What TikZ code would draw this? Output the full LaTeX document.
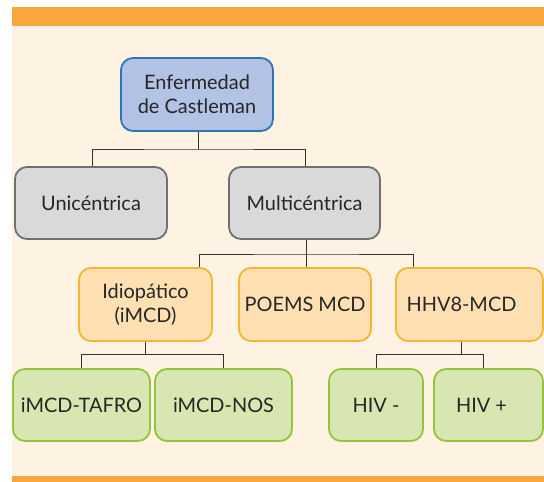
\documentclass[tikz,border=0pt]{standalone}
\usepackage{fontspec}
\setmainfont{Lato}
\definecolor{cream}{HTML}{FEF2E2}
\definecolor{barorange}{HTML}{F8A73E}
\definecolor{bluefill}{HTML}{B3C3E6}
\definecolor{blueline}{HTML}{2E75B6}
\definecolor{grayfill}{HTML}{D9D9D9}
\definecolor{grayline}{HTML}{707070}
\definecolor{orfill}{HTML}{FFE0B3}
\definecolor{orline}{HTML}{F9B234}
\definecolor{grfill}{HTML}{D8E6B1}
\definecolor{grline}{HTML}{97C23C}
\definecolor{conn}{HTML}{333333}
\tikzset{
  box/.style={rectangle, rounded corners=12bp, line width=1.8bp, align=center,
    font=\fontsize{20}{24}\selectfont, text=black!85, inner sep=0pt},
  bluebox/.style={box, fill=bluefill, draw=blueline},
  graybox/.style={box, fill=grayfill, draw=grayline},
  orbox/.style={box, fill=orfill, draw=orline},
  grbox/.style={box, fill=grfill, draw=grline},
  link/.style={draw=conn, line width=1bp},
}
\begin{document}
\begin{tikzpicture}[x=1bp,y=-1bp]
\useasboundingbox (0,0) rectangle (544,482);
\fill[white] (0,0) rectangle (544,482);
\fill[cream] (12,26) rectangle (544,476);
\fill[barorange] (12,7.5) rectangle (544,26);
\fill[barorange] (12,476) rectangle (544,482);

\node[bluebox, minimum width=152bp, minimum height=73bp] (ec) at (197,94.5) {Enfermedad\\de Castleman};
\node[graybox, minimum width=152bp, minimum height=72bp] (uni) at (91,203) {Unicéntrica};
\node[graybox, minimum width=151bp, minimum height=72bp] (multi) at (304.5,203) {Multicéntrica};
\node[orbox, minimum width=133bp, minimum height=73bp] (idio) at (145.5,304.5) {Idiopático\\(iMCD)};
\node[orbox, minimum width=132bp, minimum height=73bp] (poems) at (305,304.5) {POEMS MCD};
\node[orbox, minimum width=147bp, minimum height=73bp] (hhv) at (469.5,304.5) {\hspace*{-16bp}HHV8-MCD};
\node[grbox, minimum width=137bp, minimum height=72bp] (tafro) at (81.5,405) {iMCD-TAFRO};
\node[grbox, minimum width=137bp, minimum height=72bp] (nos) at (223.5,405) {iMCD-NOS};
\node[grbox, minimum width=94bp, minimum height=72bp] (hivn) at (376,405) {HIV -};
\node[grbox, minimum width=109bp, minimum height=72bp] (hivp) at (488.5,405) {\hspace*{-14bp}HIV +};

\coordinate (j1) at (198.5,150);
\draw[link] (ec.south -| j1) -- (j1);
\draw[link] (uni.north -| 92,0) |- (j1) -| (multi.north -| 305,0);

\coordinate (j2) at (306,254);
\draw[link] (multi.south -| j2) -- (j2);
\draw[link] (idio.north -| 199,0) |- (j2) -| (hhv.north -| 413,0);
\draw[link] (j2) -- (poems.north -| j2);

\coordinate (j3) at (145.7,354.7);
\draw[link] (idio.south -| j3) -- (j3);
\draw[link] (tafro.north -| 81,0) |- (j3) -| (nos.north -| 223,0);

\coordinate (j4) at (461,354.7);
\draw[link] (hhv.south -| j4) -- (j4);
\draw[link] (hivn.north -| 376.7,0) |- (j4) -| (hivp.north -| 483,0);
\end{tikzpicture}
\end{document}
